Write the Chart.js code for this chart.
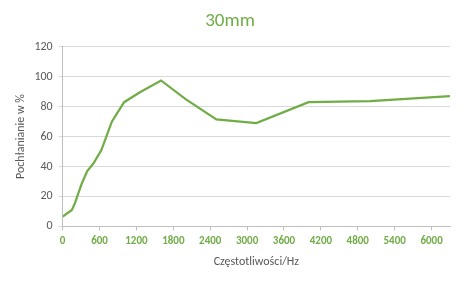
<!DOCTYPE html>
<html lang="pl">
<head>
  <meta charset="UTF-8" />
  <title>30mm</title>
  <style>
    body {
      margin: 0;
      background: #fff;
    }
    #wykres {
      display: block;
    }
  </style>
</head>
<body>
  <canvas id="wykres" width="475" height="283"></canvas>

  <script src="https://cdn.jsdelivr.net/npm/chart.js"></script>
  <script>
    // czestotliwosci w Hz i pochlanianie w %
    const czestotliwosci = [0, 150, 200, 250, 315, 400, 500, 630, 800, 1000, 1250, 1600, 2000, 2500, 3150, 4000, 5000, 6300];
    const pochlanianie = [6.5, 11, 15.5, 21.5, 29, 37, 42, 51, 70, 83, 89.5, 97.5, 85, 71.5, 69, 83, 83.7, 87];
    const osX = [0, 600, 1200, 1800, 2400, 3000, 3600, 4200, 4800, 5400, 6000];
    const osY = [0, 20, 40, 60, 80, 100, 120];
    const tytul = '30mm';
    const zielony = '#70AD47';
    const szary = '#595959';
    const czcionka = 'Calibri, Carlito, "Liberation Sans", Arial, sans-serif';

    const punkty = czestotliwosci.map((x, i) => ({ x: x, y: pochlanianie[i] }));

    const ctx = document.getElementById('wykres').getContext('2d');
    new Chart(ctx, {
      type: 'line',
      data: {
        datasets: [{
          label: tytul,
          data: punkty,
          borderColor: zielony,
          borderWidth: 2.25,
          pointRadius: 0,
          fill: false,
          tension: 0
        }]
      },
      options: {
        responsive: false,
        animation: false,
        layout: {
          padding: { left: 10, right: 25, top: 6, bottom: 10 }
        },
        plugins: {
          legend: { display: false },
          tooltip: { enabled: false },
          title: {
            display: true,
            text: tytul,
            color: zielony,
            font: { family: czcionka, size: 19, weight: 'normal' },
            padding: { top: 4, bottom: 14 }
          }
        },
        scales: {
          x: {
            type: 'linear',
            min: 0,
            max: 6300,
            afterBuildTicks: function (scale) {
              scale.ticks = osX.map(v => ({ value: v }));
            },
            ticks: {
              color: zielony,
              autoSkip: false,
              maxRotation: 0,
              font: { family: czcionka, size: 11, weight: 'bold' },
              padding: 4,
              callback: v => String(v)
            },
            grid: {
              drawOnChartArea: false,
              color: '#bfbfbf',
              tickLength: 4
            },
            border: { color: '#bfbfbf' },
            title: {
              display: true,
              text: 'Częstotliwości/Hz',
              color: szary,
              font: { family: czcionka, size: 12 },
              padding: { top: 3 }
            }
          },
          y: {
            min: 0,
            max: 120,
            afterBuildTicks: function (scale) {
              scale.ticks = osY.map(v => ({ value: v }));
            },
            ticks: {
              color: szary,
              font: { family: czcionka, size: 12 },
              padding: 6
            },
            grid: {
              color: '#d9d9d9',
              tickLength: 4
            },
            border: { color: '#bfbfbf' },
            title: {
              display: true,
              text: 'Pochłanianie w %',
              color: szary,
              font: { family: czcionka, size: 12 },
              padding: { bottom: 0 }
            }
          }
        }
      }
    });
  </script>
</body>
</html>
